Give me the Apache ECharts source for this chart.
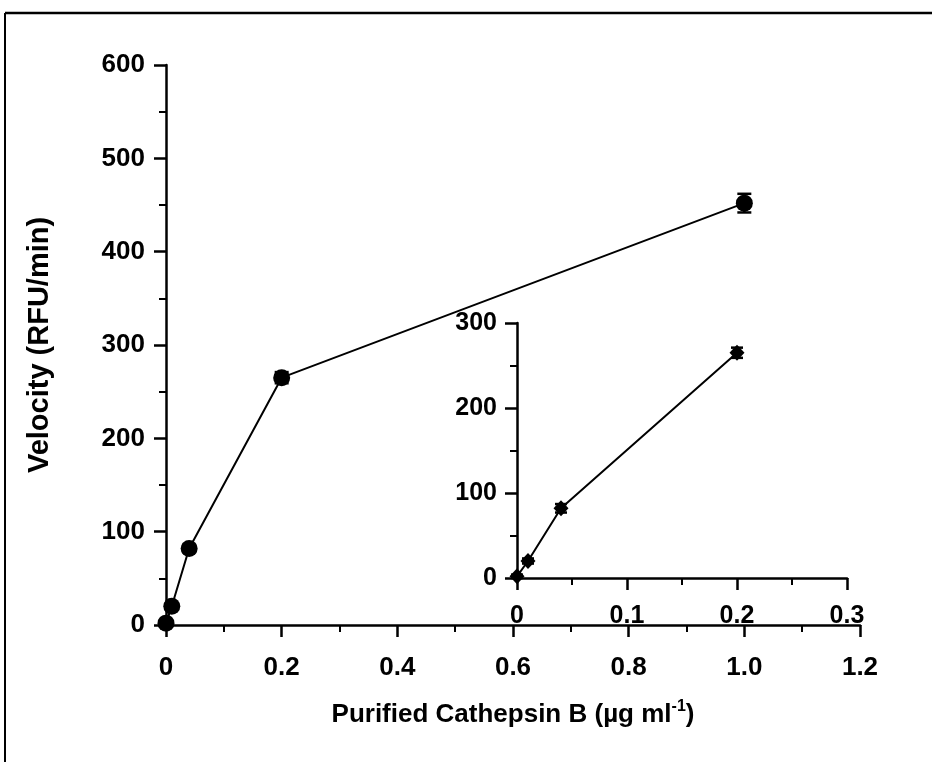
<!DOCTYPE html>
<html>
<head>
<meta charset="utf-8">
<style>
  html, body { margin: 0; padding: 0; background: #fff; }
  #chart { width: 932px; height: 762px; }
</style>
<script src="https://cdn.jsdelivr.net/npm/echarts@6/dist/echarts.min.js"></script>
</head>
<body>
<div id="chart"></div>
<script>
// Enzyme concentration (µg/ml) and measured velocity (RFU/min)
const concMain = [0, 0.01, 0.04, 0.2, 1.0];
const velMain = [2, 20, 82, 265, 452];
const errMain = [2, 3, 4, 6, 10];

// Low-concentration range shown in the inset
const concInset = [0, 0.01, 0.04, 0.2];
const velInset = [2, 20, 82, 265];
const errInset = [2, 3, 5, 6];

const mainXTicks = [0, 0.2, 0.4, 0.6, 0.8, 1.0, 1.2];
const mainYTicks = [0, 100, 200, 300, 400, 500, 600];
const insetXTicks = [0, 0.1, 0.2, 0.3];
const insetYTicks = [0, 100, 200, 300];

const FONT = '"Liberation Sans", Arial, sans-serif';
const INK = '#000';

function pairs(xs, ys) { return xs.map((x, i) => [x, ys[i]]); }
function errRows(xs, ys, es) { return xs.map((x, i) => [x, ys[i] - es[i], ys[i] + es[i]]); }

function fmtX(v) {
  if (v === 0) return '0';
  return v.toFixed(1);
}

function errorBarSeries(xIdx, yIdx, rows, capHalf) {
  return {
    type: 'custom',
    xAxisIndex: xIdx,
    yAxisIndex: yIdx,
    z: 5,
    data: rows,
    renderItem: function (params, api) {
      const lo = api.coord([api.value(0), api.value(1)]);
      const hi = api.coord([api.value(0), api.value(2)]);
      const st = { stroke: INK, lineWidth: 2.5 };
      return {
        type: 'group',
        children: [
          { type: 'line', shape: { x1: lo[0], y1: lo[1], x2: hi[0], y2: hi[1] }, style: st },
          { type: 'line', shape: { x1: lo[0] - capHalf, y1: lo[1], x2: lo[0] + capHalf, y2: lo[1] }, style: st },
          { type: 'line', shape: { x1: hi[0] - capHalf, y1: hi[1], x2: hi[0] + capHalf, y2: hi[1] }, style: st }
        ]
      };
    }
  };
}

function valueAxis(gridIndex, min, max, interval, fontSize, fmt, margin, extra) {
  return Object.assign({
    type: 'value',
    gridIndex: gridIndex,
    min: min,
    max: max,
    interval: interval,
    splitLine: { show: false },
    axisLine: { show: true, onZero: false, lineStyle: { color: INK, width: 2.5 } },
    axisTick: { show: true, inside: false, length: 12, lineStyle: { color: INK, width: 2.5 } },
    minorTick: { show: true, splitNumber: 2, length: 7, lineStyle: { color: INK, width: 2 } },
    axisLabel: {
      color: INK, fontFamily: FONT, fontWeight: 'bold', fontSize: fontSize,
      margin: margin, formatter: fmt, showMinLabel: true, showMaxLabel: true
    }
  }, extra || {});
}

const chart = echarts.init(document.getElementById('chart'), null, { renderer: 'canvas' });

const option = {
  backgroundColor: '#fff',
  animation: false,
  grid: [
    { left: 166, top: 65, right: 72, bottom: 137 },
    { left: 517, top: 323, right: 85, bottom: 184 }
  ],
  xAxis: [
    valueAxis(0, 0, 1.2, 0.2, 26, fmtX, 30, {
      name: '{t|Purified Cathepsin B (µg ml}{s|-1}{t|)}',
      nameLocation: 'middle',
      nameGap: 74,
      nameTextStyle: {
        rich: {
          t: { fontFamily: FONT, fontWeight: 'bold', fontSize: 26, color: INK },
          s: { fontFamily: FONT, fontWeight: 'bold', fontSize: 16, color: INK, verticalAlign: 'top', padding: [0, 0, 16, 0] }
        }
      }
    }),
    valueAxis(1, 0, 0.3, 0.1, 25, fmtX, 26)
  ],
  yAxis: [
    valueAxis(0, 0, 600, 100, 26, null, 21, {
      name: 'Velocity (RFU/min)',
      nameLocation: 'middle',
      nameGap: 112,
      nameTextStyle: { fontFamily: FONT, fontWeight: 'bold', fontSize: 29, color: INK }
    }),
    valueAxis(1, 0, 300, 100, 25, null, 20)
  ],
  series: [
    {
      type: 'line',
      xAxisIndex: 0, yAxisIndex: 0,
      data: pairs(concMain, velMain),
      symbol: 'circle',
      symbolSize: 17,
      lineStyle: { color: INK, width: 2 },
      itemStyle: { color: INK },
      z: 4
    },
    errorBarSeries(0, 0, errRows(concMain, velMain, errMain), 7),
    {
      type: 'line',
      xAxisIndex: 1, yAxisIndex: 1,
      data: pairs(concInset, velInset),
      symbol: 'diamond',
      symbolSize: [15, 16],
      lineStyle: { color: INK, width: 2 },
      itemStyle: { color: INK },
      z: 4
    },
    errorBarSeries(1, 1, errRows(concInset, velInset, errInset), 6)
  ],
  graphic: [
    // frame edges along the top and left
    { type: 'line', shape: { x1: 5, y1: 13, x2: 932, y2: 13 }, style: { stroke: INK, lineWidth: 2.5 } },
    { type: 'line', shape: { x1: 5, y1: 13, x2: 5, y2: 762 }, style: { stroke: INK, lineWidth: 2 } }
  ]
};

chart.setOption(option);
</script>
</body>
</html>
